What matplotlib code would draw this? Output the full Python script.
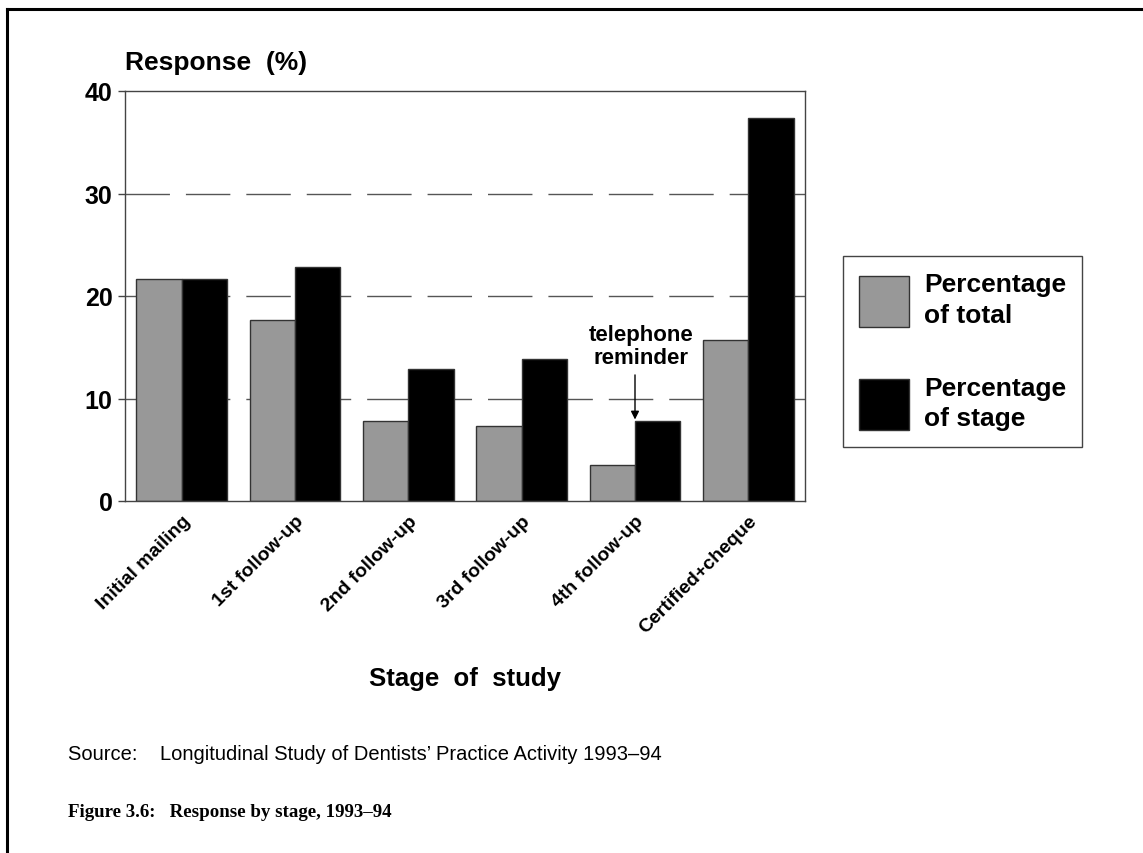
import numpy as np
import matplotlib
matplotlib.use("Agg")
import matplotlib.pyplot as plt
from matplotlib.lines import Line2D

# data
stages = ["Initial mailing", "1st follow-up", "2nd follow-up",
          "3rd follow-up", "4th follow-up", "Certified+cheque"]
pct_total = [21.7, 17.7, 7.8, 7.3, 3.5, 15.7]
pct_stage = [21.7, 22.8, 12.9, 13.9, 7.8, 37.4]
yticks = [0, 10, 20, 30, 40]
series_labels = ["Percentage\nof total", "Percentage\nof stage"]

plt.rcParams['font.family'] = ['Liberation Sans', 'DejaVu Sans']

W, H = 1143, 854
fig = plt.figure(figsize=(W / 100, H / 100), dpi=100)
ax = fig.add_axes([125 / W, 1 - 502 / H, 680 / W, 410 / H])

x = np.arange(len(stages))
bw = 0.4
ax.bar(x + 0.1, pct_total, bw, align='edge', color='#989898',
       edgecolor='#333333', linewidth=1, label=series_labels[0], zorder=2)
ax.bar(x + 0.5, pct_stage, bw, align='edge', color='black',
       edgecolor='#333333', linewidth=1, label=series_labels[1], zorder=2)

ax.set_xlim(0, len(stages))
ax.set_ylim(0, 40)

# dashed grid lines
for yv in yticks[1:-1]:
    ax.axhline(yv, color='#555555', lw=1, dashes=(32, 11.5), zorder=1)

ax.set_yticks(yticks)
ax.set_yticklabels([str(v) for v in yticks], fontsize=18, fontweight='bold')
ax.tick_params(axis='y', direction='out', length=5, width=1, color='#444444', pad=4)

ax.set_xticks(x + 0.5)
ax.set_xticklabels(stages, rotation=45, ha='right', rotation_mode='anchor',
                   fontsize=14, fontweight='bold')
ax.tick_params(axis='x', length=0, pad=8)

for s in ax.spines.values():
    s.set_color('#444444')
    s.set_linewidth(1)

# telephone reminder note
ax.text(4.55, 15.1, "telephone\nreminder", ha='center', va='center',
        fontsize=16, fontweight='bold', linespacing=1.1)
ax.annotate("", xy=(4.5, 7.95), xytext=(4.5, 12.3),
            arrowprops=dict(arrowstyle='-|>', color='black', lw=1,
                            mutation_scale=12, shrinkA=0, shrinkB=0))

leg = ax.legend(loc='upper left', bbox_to_anchor=(843 / W, 1 - 257 / H),
                bbox_transform=fig.transFigure, borderaxespad=0,
                prop={'weight': 'bold', 'size': 19},
                handlelength=1.9, handleheight=2.6, handletextpad=0.55,
                labelspacing=1.85, borderpad=0.62, fancybox=False,
                edgecolor='#444444', framealpha=1)
for t in leg.get_texts():
    t.set_linespacing(1.35)
leg.get_frame().set_linewidth(1)

fig.text(125 / W, 1 - 63 / H, "Response  (%)", fontsize=19, fontweight='bold',
         ha='left', va='center')
fig.text(465 / W, 1 - 679 / H, "Stage  of  study", fontsize=18.5,
         fontweight='bold', ha='center', va='center')

fig.text(68 / W, 1 - 755 / H,
         "Source:    Longitudinal Study of Dentists\u2019 Practice Activity 1993\u201394",
         fontsize=14.5, ha='left', va='center')
fig.text(68 / W, 1 - 813 / H, "Figure 3.6:   Response by stage, 1993\u201394",
         fontsize=13.6, fontweight='bold', family='Liberation Serif',
         ha='left', va='center')

# page frame (top and left rules)
fig.add_artist(Line2D([7 / W, 1], [1 - 10 / H, 1 - 10 / H], color='black',
                      lw=2.2, transform=fig.transFigure))
fig.add_artist(Line2D([7 / W, 7 / W], [0, 1 - 10 / H], color='black',
                      lw=2.2, transform=fig.transFigure))

fig.savefig("out.png", dpi=100)
